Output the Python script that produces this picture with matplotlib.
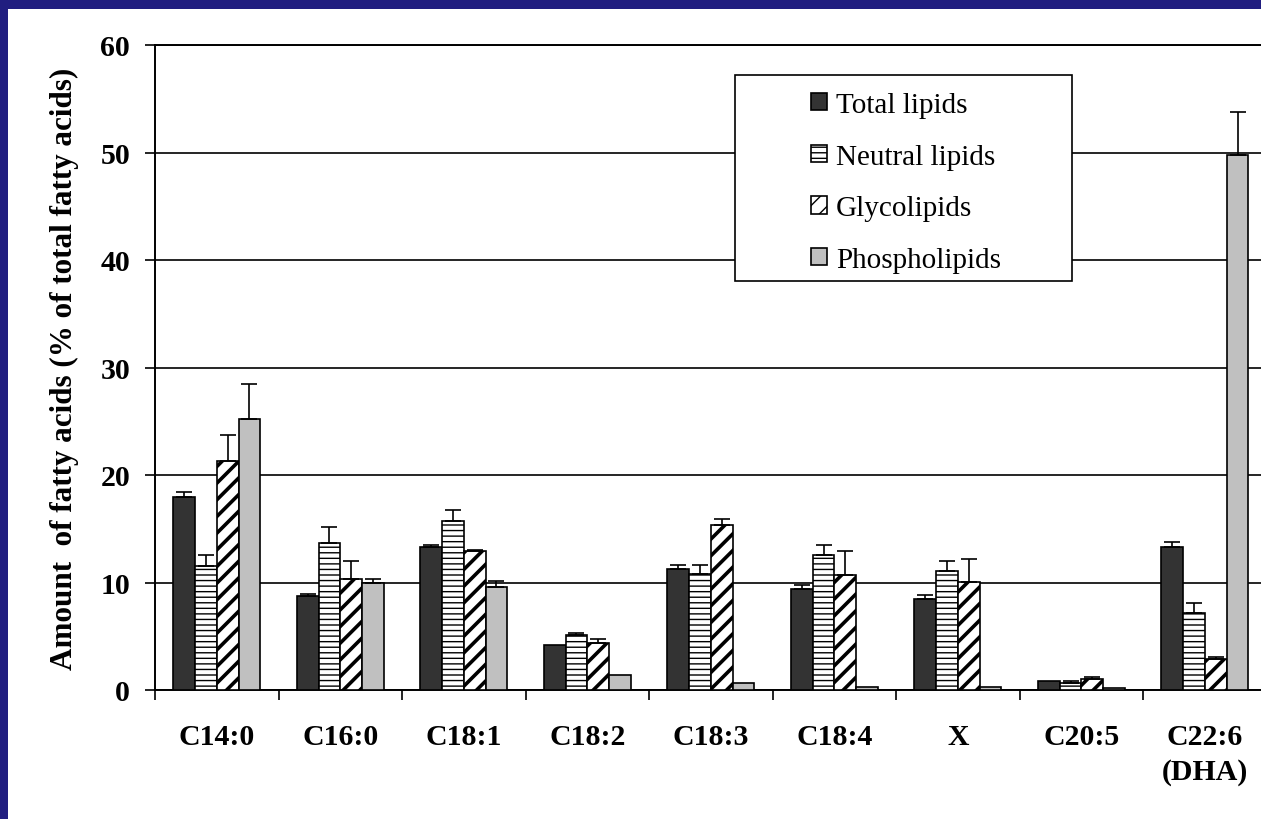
import numpy as np
import matplotlib
matplotlib.use("Agg")
import matplotlib.pyplot as plt
from matplotlib.patches import Rectangle

# Fatty acid composition per lipid class (% of total fatty acids), mean and +SD
acids = ["C14:0", "C16:0", "C18:1", "C18:2", "C18:3", "C18:4", "X", "C20:5", "C22:6\n(DHA)"]
series = ["Total lipids", "Neutral lipids", "Glycolipids", "Phospholipids"]

total = [18.0, 8.7, 13.3, 4.2, 11.25, 9.4, 8.5, 0.85, 13.3]
total_sd = [0.4, 0.2, 0.2, 0.0, 0.35, 0.4, 0.35, 0.0, 0.5]
neutral = [11.5, 13.7, 15.7, 5.1, 10.8, 12.55, 11.05, 0.65, 7.2]
neutral_sd = [1.1, 1.5, 1.0, 0.2, 0.8, 0.95, 0.95, 0.2, 0.9]
glyco = [21.3, 10.3, 12.9, 4.4, 15.35, 10.7, 10.05, 1.0, 2.9]
glyco_sd = [2.4, 1.7, 0.1, 0.35, 0.55, 2.2, 2.1, 0.2, 0.2]
phospho = [25.2, 10.0, 9.6, 1.4, 0.65, 0.3, 0.3, 0.15, 49.8]
phospho_sd = [3.3, 0.35, 0.5, 0.0, 0.0, 0.0, 0.0, 0.0, 4.0]

values = [total, neutral, glyco, phospho]
errors = [total_sd, neutral_sd, glyco_sd, phospho_sd]
faces = ["#333333", "white", "white", "#c0c0c0"]
hatches = [None, "---", "//", None]
hatch_widths = [1.0, 1.0, 2.6, 1.0]

plt.rcParams["font.family"] = ["Liberation Serif", "DejaVu Serif"]
plt.rcParams["hatch.color"] = "black"

W, H = 1261, 820
fig = plt.figure(figsize=(W / 100, H / 100), dpi=100)
fig.patch.set_facecolor("#211e80")
# white page inside the blue frame
fig.add_artist(Rectangle((8 / W, 0), 1, 1 - 10 / H, transform=fig.transFigure,
                         facecolor="white", edgecolor="none", zorder=-10))

ax = fig.add_axes([155 / W, 1 - 691 / H, 1111.7 / W, 645 / H])
ax.set_facecolor("none")

x = np.arange(len(acids))
bw = 0.176
for i, (vals, errs) in enumerate(zip(values, errors)):
    plt.rcParams["hatch.linewidth"] = hatch_widths[i]
    pos = x + (i - 1.5) * bw
    ax.bar(pos, vals, bw, color=faces[i], edgecolor="black", linewidth=1.2,
           hatch=hatches[i], label=series[i], zorder=3)
    errs = np.array(errs)
    keep = errs > 0
    ax.errorbar(pos[keep], np.array(vals)[keep],
                yerr=[np.zeros(keep.sum()), errs[keep]],
                fmt="none", ecolor="black", elinewidth=1.2, capsize=6,
                capthick=1.2, zorder=4)

ax.set_xlim(-0.5, len(acids) - 0.5)
ax.set_ylim(0, 60)
ax.set_yticks(range(0, 61, 10))
ax.set_yticklabels([str(v) for v in range(0, 61, 10)], fontsize=21.5, fontweight="bold")
ax.set_xticks(x)
ax.set_xticklabels(acids, fontsize=21.5, fontweight="bold", linespacing=1.35)
ax.set_xticks(np.arange(-0.5, len(acids)), minor=True)
ax.tick_params(axis="x", which="major", length=0, pad=24)
ax.tick_params(axis="x", which="minor", length=7, width=1.2, direction="out")
ax.tick_params(axis="y", length=7, width=1.2, direction="out", pad=11)

ax.yaxis.grid(True, color="black", linewidth=1.2, zorder=0)
ax.set_axisbelow(True)
ax.spines["right"].set_visible(False)
for side in ["left", "bottom", "top"]:
    ax.spines[side].set_linewidth(1.4)

ax.set_ylabel("Amount  of fatty acids (% of total fatty acids)", fontsize=22.4,
              fontweight="bold")
ax.yaxis.set_label_coords(-0.068, 0.5)

# legend frame and entries
fig.add_artist(Rectangle((735 / W, 1 - 282 / H), 337 / W, 206 / H,
                         transform=fig.transFigure, facecolor="white",
                         edgecolor="black", linewidth=1.2, zorder=5))
handles, labels = ax.get_legend_handles_labels()
leg = fig.legend(handles, labels, loc="center left",
                 bbox_to_anchor=(811 / W, 1 - 183.5 / H), frameon=False,
                 fontsize=21, handlelength=0.55, handleheight=0.55,
                 handletextpad=0.3, labelspacing=0.88, borderpad=0,
                 borderaxespad=0)
leg.set_zorder(6)

fig.savefig("out.png", dpi=100, facecolor=fig.get_facecolor())
